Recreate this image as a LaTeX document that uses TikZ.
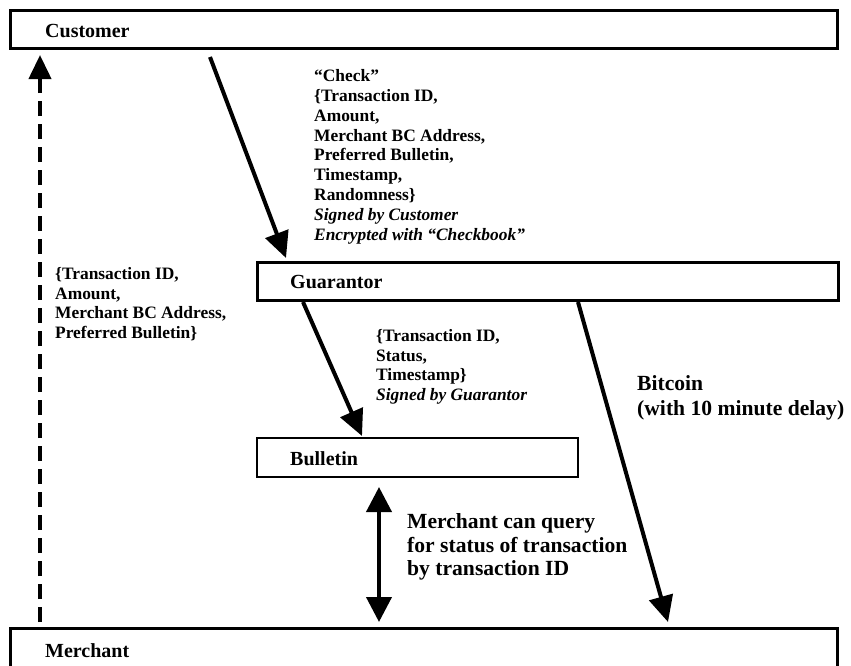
\documentclass[tikz,border=0pt]{standalone}
\usepackage{fontspec}
\setmainfont{Liberation Serif}
\usetikzlibrary{arrows.meta}
\begin{document}
\begin{tikzpicture}[x=1pt,y=-1pt,
  box/.style={draw, line width=3pt, inner sep=0pt},
  boxlabel/.style={anchor=west, inner sep=0pt, font=\fontsize{20}{22}\selectfont\bfseries},
  msg/.style={anchor=north west, inner sep=0pt, align=left, font=\fontsize{17.4}{19.8}\selectfont\bfseries},
  bigmsg/.style={anchor=north west, inner sep=0pt, align=left, font=\fontsize{21.6}{23.6}\selectfont\bfseries},
  flow/.style={line width=4pt, -{Triangle[length=26pt,width=24pt]}},
  ret/.style={line width=4pt, dash pattern=on 15pt off 8pt, -{Triangle[length=24pt,width=22pt]}},
  query/.style={line width=4pt, {Triangle[length=25pt,width=25pt]}-{Triangle[length=25pt,width=25pt]}}
]
\clip (0,0) rectangle (851,665);
% boxes
\node[box, minimum width=827pt, minimum height=38pt] (cust) at (423.5,29) {};
\node[box, minimum width=581pt, minimum height=38pt] (guar) at (547.5,281) {};
\node[box, minimum width=321pt, minimum height=39pt, line width=2.5pt] (bull) at (417.5,457.5) {};
\node[box, minimum width=827pt, minimum height=48pt] (merch) at (423.5,652) {};
% box labels
\node[boxlabel] (custl) at (45,31) {Customer};
\node[boxlabel] (guarl) at (290,282) {Guarantor};
\node[boxlabel] (bulll) at (290,459) {Bulletin};
\node[boxlabel] (merchl) at (45,651) {Merchant};
% connector end points
\coordinate (c1) at (210,57);
\coordinate (g1) at (286,258);
\coordinate (m0) at (40,622);
\coordinate (c0) at (40,55);
\coordinate (g2) at (303,302);
\coordinate (b1) at (362,436);
\coordinate (g3) at (578,302);
\coordinate (m1) at (668,622);
\coordinate (b2) at (379,487);
\coordinate (m2) at (379,622);
% connectors
\draw[flow] (c1) -- (g1);
\draw[ret] (m0) -- (c0);
\draw[flow] (g2) -- (b1);
\draw[flow] (g3) -- (m1);
\draw[query] (b2) -- (m2);
% messages
\node[msg] (check) at (314,69.5) {“Check”\\\{Transaction ID,\\Amount,\\Merchant BC Address,\\Preferred Bulletin,\\Timestamp,\\Randomness\}\\\textit{Signed by Customer}\\\textit{Encrypted with “Checkbook”}};
\node[msg] (ret) at (55,267) {\{Transaction ID,\\Amount,\\Merchant BC Address,\\Preferred Bulletin\}};
\node[msg] (stat) at (376,329) {\{Transaction ID,\\Status,\\Timestamp\}\\\textit{Signed by Guarantor}};
\node[bigmsg, font=\fontsize{21.6}{25}\selectfont\bfseries] (btc) at (637,375) {Bitcoin\\(with 10 minute delay)};
\node[bigmsg] (qry) at (407,513.5) {Merchant can query\\for status of transaction\\by transaction ID};
\end{tikzpicture}
\end{document}
